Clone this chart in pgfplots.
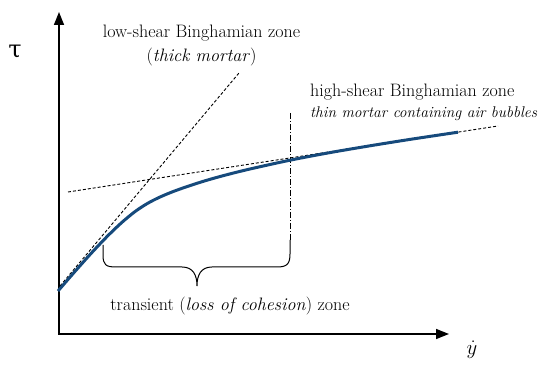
\documentclass[border=0pt]{standalone}
\usepackage{fontspec}
\usepackage{pgfplots}
\pgfplotsset{compat=1.18}
\usetikzlibrary{arrows.meta}
\newfontfamily\dvs{DejaVu Serif}
\definecolor{curveblue}{RGB}{22,74,124}
\begin{document}
\begin{tikzpicture}
\begin{axis}[
  scale only axis, width=550pt, height=371pt,
  xmin=0, xmax=550, ymin=0, ymax=371, y dir=reverse,
  hide axis, clip=false,
]
\path (axis cs:0,0) rectangle (axis cs:550,371);
% axes
\draw[line width=1.5pt, -{Triangle[length=13pt,width=10pt]}] (axis cs:59,335) -- (axis cs:59,12);
\draw[line width=1.5pt, -{Triangle[length=13pt,width=10pt]}] (axis cs:58,334) -- (axis cs:449,334);
% tangent lines
\addplot[black, line width=0.9pt, dash pattern=on 3pt off 2pt] coordinates {(60,286) (239,73)};
\addplot[black, line width=0.9pt, dash pattern=on 3pt off 2pt] coordinates {(68,192) (498,126)};
% dash-dot
\addplot[black, line width=0.9pt, dash pattern=on 6pt off 2pt on 1pt off 2pt] coordinates {(290,113) (290,240)};
% curve
\addplot[curveblue, line width=3pt, smooth, tension=0.5] coordinates {
(58,291) (75,271.4) (92,252.4) (108,235.6) (122,222.3) (135,211.6) (147,203.7)
(159,197.5) (172,192.0) (187,186.6) (205,180.8) (225,175.2) (250,169.0)
(290,160.2) (330,152.6) (370,145.8) (410,139.4) (458,132.2)};
% brace
\draw[black, line width=1pt] (axis cs:103,245) -- (axis cs:103,255) .. controls (axis cs:103,265) and (axis cs:106,267) .. (axis cs:116,267)
  -- (axis cs:182,267) .. controls (axis cs:193,267) and (axis cs:197,275) .. (axis cs:197,286)
  .. controls (axis cs:197,275) and (axis cs:201,267) .. (axis cs:212,267)
  -- (axis cs:277,267) .. controls (axis cs:287,267) and (axis cs:290,264) .. (axis cs:290,254) -- (axis cs:290,240);
% labels
\node[anchor=base, inner sep=0pt, font=\fontsize{18}{21}\selectfont] at (axis cs:201.5,38) {low-shear Binghamian zone};
\node[anchor=base, inner sep=0pt, font=\fontsize{18}{21}\selectfont] at (axis cs:201.5,62) {(\textit{thick mortar})};
\node[anchor=base west, inner sep=0pt, font=\fontsize{18}{21}\selectfont] at (axis cs:310,97) {high-shear Binghamian zone};
\node[anchor=base west, inner sep=0pt, font=\fontsize{15.5}{18}\selectfont\itshape] at (axis cs:310,118) {thin mortar containing air bubbles};
\node[anchor=base, inner sep=0pt, font=\fontsize{18}{21}\selectfont] at (axis cs:230,311) {transient (\textit{loss of cohesion}) zone};
\node[font=\fontsize{24}{28}\selectfont\dvs] at (axis cs:15,52) {τ};
\node[font=\fontsize{22}{26}\selectfont] at (axis cs:472,350) {$\dot{y}$};
\end{axis}
\end{tikzpicture}
\end{document}
